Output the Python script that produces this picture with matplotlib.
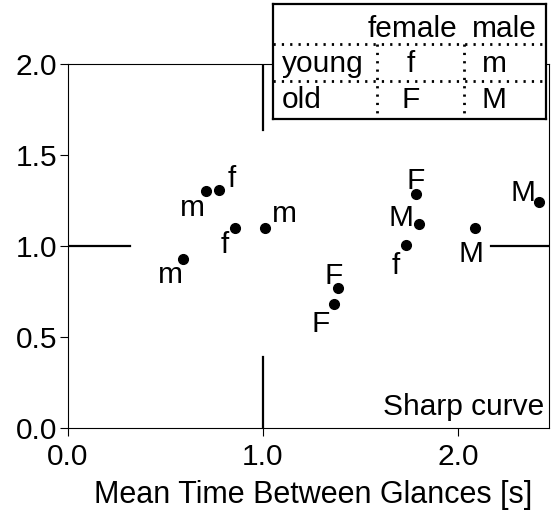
import matplotlib
matplotlib.use("Agg")
import matplotlib.pyplot as plt
from matplotlib.lines import Line2D

plt.rcParams['font.family'] = ['Liberation Sans', 'DejaVu Sans']

# data
x_vals = [0.59, 0.71, 0.775, 0.857, 1.01, 1.383, 1.366, 1.785, 1.80, 1.733, 2.09, 2.417]
y_vals = [0.93, 1.30, 1.31, 1.10, 1.10, 0.767, 0.68, 1.287, 1.12, 1.003, 1.10, 1.243]
labels = ['m', 'm', 'f', 'f', 'm', 'F', 'F', 'F', 'M', 'f', 'M', 'M']
x_ticks = [0.0, 1.0, 2.0]
x_ticklabels = ['0.0', '1.0', '2.0']
y_ticks = [0.0, 0.5, 1.0, 1.5, 2.0]
y_ticklabels = ['0.0', '0.5', '1.0', '1.5', '2.0']
panel_title = 'Sharp curve'
x_label = 'Mean Time Between Glances [s]'
ref_x = 1.0
ref_y = 1.0

# label offsets (pixels) of letters relative to points
label_offsets = [(-13, -24), (-14, -25), (13, 3), (-10, -25), (20, 6), (-4, 4),
                 (-14, -28), (0, 5), (-18, -2), (-10, -29), (-4, -34), (-16, 1)]

FS = 21.5
fig = plt.figure(figsize=(5.55, 5.12), dpi=100)
W, H = 555, 512
ax = fig.add_axes([68 / W, 1 - 428 / H, (549 - 68) / W, (428 - 64) / H])
ax.set_xlim(0, 2.467)
ax.set_ylim(0, 2.0)

ax.plot(x_vals, y_vals, 'o', color='black', markersize=7, zorder=3)
for xv, yv, lab, (dx, dy) in zip(x_vals, y_vals, labels, label_offsets):
    ax.annotate(lab, (xv, yv), xytext=(dx, dy), textcoords='offset pixels',
                ha='center', va='baseline', fontsize=FS)

# reference lines
ax.plot([0, 0.32], [ref_y, ref_y], color='black', lw=1.6)
ax.plot([2.17, 2.467], [ref_y, ref_y], color='black', lw=1.6)
ax.plot([ref_x, ref_x], [0, 0.39], color='black', lw=1.6)
ax.plot([ref_x, ref_x], [1.64, 2.0], color='black', lw=1.6)

ax.set_xticks(x_ticks)
ax.set_xticklabels(x_ticklabels)
ax.set_yticks(y_ticks)
ax.set_yticklabels(y_ticklabels)
ax.tick_params(direction='out', length=6, width=0.8, labelsize=FS)
ax.tick_params(axis='x', pad=4.5)
ax.tick_params(axis='y', pad=2)
for s in ax.spines.values():
    s.set_linewidth(0.8)
ax.set_xlabel(x_label, fontsize=22, labelpad=6.5, x=0.51)
ax.text(0.99, 0.036, panel_title, transform=ax.transAxes, ha='right', va='baseline', fontsize=FS)

# legend table (in pixel coordinates of its own axes)
lx0, lx1, ly0, ly1 = 273, 546, 4, 119
lax = fig.add_axes([lx0 / W, 1 - ly1 / H, (lx1 - lx0) / W, (ly1 - ly0) / H], zorder=5)
lax.set_xlim(lx0, lx1)
lax.set_ylim(ly1, ly0)
lax.set_xticks([])
lax.set_yticks([])
lax.set_facecolor('white')
for s in lax.spines.values():
    s.set_linewidth(1.6)
dot = (0, (0.8, 2.2))
for yy in (44, 81):
    lax.add_line(Line2D([lx0, lx1], [yy, yy], color='black', lw=2, linestyle=dot))
for xx in (377, 464):
    lax.add_line(Line2D([xx, xx], [44, ly1], color='black', lw=2, linestyle=dot))
lax.text(412, 37, 'female', ha='center', va='baseline', fontsize=FS)
lax.text(504, 37, 'male', ha='center', va='baseline', fontsize=FS)
lax.text(282, 72, 'young', ha='left', va='baseline', fontsize=FS)
lax.text(282, 108, 'old', ha='left', va='baseline', fontsize=FS)
lax.text(411, 72, 'f', ha='center', va='baseline', fontsize=FS)
lax.text(494, 72, 'm', ha='center', va='baseline', fontsize=FS)
lax.text(411, 108, 'F', ha='center', va='baseline', fontsize=FS)
lax.text(494, 108, 'M', ha='center', va='baseline', fontsize=FS)

fig.savefig('out.png', dpi=100)
